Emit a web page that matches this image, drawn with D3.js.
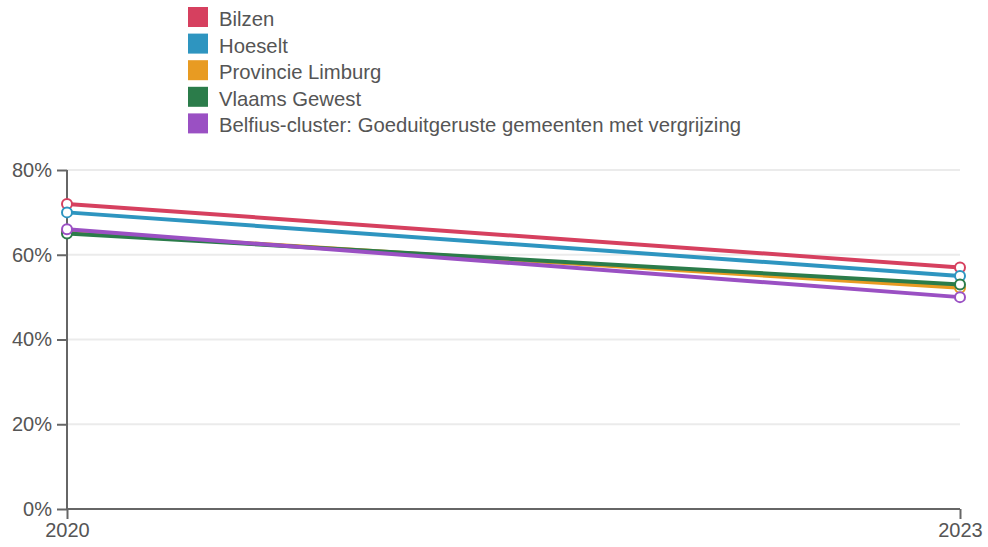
<!DOCTYPE html>
<html><head><meta charset="utf-8">
<script src="https://cdn.jsdelivr.net/npm/d3@7"></script>
<style>body{margin:0;background:#fff}svg{display:block;font-family:"Liberation Sans",Arial,sans-serif}</style>
</head><body><svg id="c" width="988" height="547"></svg>
<script>
const years = ["2020", "2023"];
const seriesNames = ["Bilzen", "Hoeselt", "Provincie Limburg", "Vlaams Gewest", "Belfius-cluster: Goeduitgeruste gemeenten met vergrijzing"];
const seriesColors = ["#d6405f", "#2e95c0", "#e89b22", "#2b7c4a", "#9a50c3"];
const bilzen = [72, 57];
const hoeselt = [70, 55];
const limburg = [65.4, 52.2];
const vlaams = [65, 53];
const belfius = [66, 50];
const yTicks = [0, 20, 40, 60, 80];

const seriesValues = [bilzen, hoeselt, limburg, vlaams, belfius];
const FONT = "'Liberation Sans',Arial,sans-serif";
const svg = d3.select("#c");
const m = {l: 67, r: 28, t: 170, b: 38};
const W = 988, H = 547;
const x = d3.scalePoint().domain(years).range([m.l, W - m.r]);
const y = d3.scaleLinear().domain([0, 80]).range([H - m.b, m.t]);

// grid
svg.append("g").selectAll("line").data(yTicks.filter(d => d > 0)).join("line")
  .attr("x1", m.l).attr("x2", W - m.r).attr("y1", d => y(d)).attr("y2", d => y(d))
  .attr("stroke", "#ebebeb").attr("stroke-width", 2);

const gy = svg.append("g").attr("transform", `translate(${m.l},0)`)
  .call(d3.axisLeft(y).tickValues(yTicks).tickFormat(d => d + "%").tickSize(10).tickPadding(5));
const gx = svg.append("g").attr("transform", `translate(0,${H - m.b})`)
  .call(d3.axisBottom(x).tickSize(10).tickPadding(4));
[gy, gx].forEach(g => {
  g.selectAll("path,line").attr("stroke", "#666").attr("stroke-width", 2);
  g.selectAll("text").attr("fill", "#555").attr("font-size", 20).attr("font-family", FONT);
});
gx.select(".domain").attr("d", `M${m.l},0H${W - m.r}`);
gy.select(".domain").attr("d", `M0,${y(80)}V${y(0)}`);

const line = d3.line().x((d, i) => x(years[i])).y(d => y(d));
seriesValues.forEach((vals, s) => {
  const g = svg.append("g");
  g.append("path").attr("d", line(vals)).attr("fill", "none")
    .attr("stroke", seriesColors[s]).attr("stroke-width", 4);
  g.selectAll("circle").data(vals).join("circle")
    .attr("cx", (d, i) => x(years[i])).attr("cy", d => y(d)).attr("r", 5)
    .attr("fill", "#fff").attr("stroke", seriesColors[s]).attr("stroke-width", 2);
});

// legend
const lg = svg.append("g").attr("transform", "translate(188,7)");
seriesNames.forEach((n, i) => {
  const r = lg.append("g").attr("transform", `translate(0,${i * 26.6})`);
  r.append("rect").attr("width", 20).attr("height", 20).attr("fill", seriesColors[i]);
  r.append("text").attr("x", 31).attr("y", 19).attr("font-size", 20.3).attr("font-family", FONT).attr("fill", "#555").text(n);
});
</script></body></html>
